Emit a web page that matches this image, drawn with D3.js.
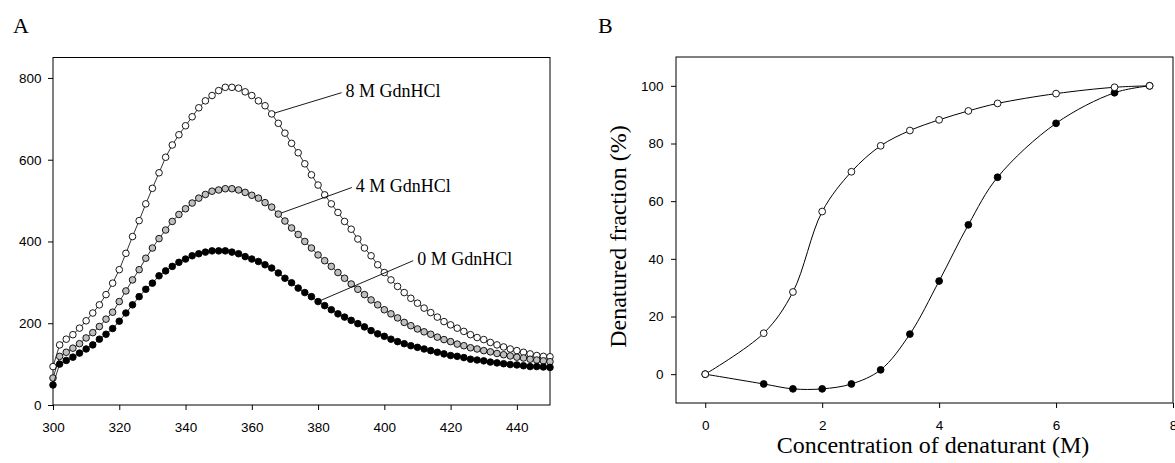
<!DOCTYPE html>
<html>
<head>
<meta charset="utf-8">
<script src="https://cdn.jsdelivr.net/npm/d3@7"></script>
<style>
  html, body { margin: 0; padding: 0; background: #fff; }
  svg { display: block; }
  .tick text { font-family: "Liberation Sans", Arial, sans-serif; font-size: 13.5px; fill: #000; }
</style>
</head>
<body>
<svg id="chart" width="1175" height="463"></svg>
<script>
// ---------- Panel A data: emission spectra ----------
const wavelengths = [300,302,304,306,308,310,312,314,316,318,320,322,324,326,328,330,332,334,336,338,
  340,342,344,346,348,350,352,354,356,358,360,362,364,366,368,370,372,374,376,378,
  380,382,384,386,388,390,392,394,396,398,400,402,404,406,408,410,412,414,416,418,
  420,422,424,426,428,430,432,434,436,438,440,442,444,446,448,450];
const gdn0M = [49,100,109,117,127,137,147,161,173,187,205,225,245,265,283,298,316,328,339,349,
  357,365,370,374,377,377,377,374,370,363,357,351,343,335,323,310,299,286,275,265,
  253,243,233,223,215,207,199,191,182,174,168,161,155,150,145,141,137,133,129,125,
  121,119,116,112,110,108,105,103,101,99,98,96,94,94,93,92];
const gdn4M = [66,119,129,139,150,164,177,192,210,227,253,279,306,331,359,384,407,428,449,466,
  480,494,506,515,523,526,529,529,526,520,513,506,495,484,467,450,433,417,400,384,
  367,353,339,324,310,296,283,270,257,245,233,223,213,202,194,186,179,173,166,160,
  155,149,145,140,137,133,130,126,123,120,117,115,112,110,108,106];
const gdn8M = [94,147,161,172,188,206,225,245,270,298,331,371,412,451,492,530,568,606,636,661,
  683,705,727,744,757,769,777,777,775,766,757,744,732,712,689,665,640,617,590,563,
  538,514,492,471,449,430,406,384,365,343,324,306,290,275,261,249,237,226,215,204,
  196,188,180,172,165,160,153,147,142,137,133,129,125,121,119,118];
const xTicksA = [300,320,340,360,380,400,420,440];
const yTicksA = [0,200,400,600,800];
const seriesNamesA = ["8 M GdnHCl","4 M GdnHCl","0 M GdnHCl"];
// annotation: anchor wavelength on the series, label end point in data units
const annotAnchorNm = [366, 368, 380];
const annotEndNm = [387.1, 390.2, 408.7];
const annotEndVal = [764, 532, 353];

// ---------- Panel B data: denaturation curves ----------
const concentration = [0,1,1.5,2,2.5,3,3.5,4,4.5,5,6,7,7.6];
const fractionFilled = [0,-3.4,-5.1,-5.1,-3.4,1.5,13.9,32.3,51.8,68.3,87,97.6,100];
const fractionOpen = [0,14.2,28.5,56.4,70.2,79.2,84.5,88.2,91.3,93.9,97.3,99.5,100];
const xTicksB = [0,2,4,6,8];
const yTicksB = [0,20,40,60,80,100];

const svg = d3.select("#chart");
const serif = "'Liberation Serif','Times New Roman',serif";

// ================= Panel A =================
const xA = d3.scaleLinear().domain([300,450]).range([53,550]);
const yA = d3.scaleLinear().domain([0,850]).range([405,57.5]);
const gA = svg.append("g");

gA.append("text").attr("x",13).attr("y",33).attr("font-family",serif).attr("font-size",22).text("A");

gA.append("g").attr("transform","translate(0,405)")
  .call(d3.axisBottom(xA).tickValues(xTicksA).tickSize(5).tickPadding(12.5).tickSizeOuter(0))
  .call(g=>g.select(".domain").remove());
gA.append("g").attr("transform","translate(53,0)")
  .call(d3.axisLeft(yA).tickValues(yTicksA).tickSize(5).tickPadding(6.5).tickSizeOuter(0))
  .call(g=>g.select(".domain").remove());
gA.append("rect").attr("x",xA(300)).attr("y",yA(850)).attr("width",xA(450)-xA(300)).attr("height",yA(0)-yA(850))
  .attr("fill","none").attr("stroke","#000").attr("stroke-width",1);

const seriesA = [
  {vals: gdn8M, fill: "#ffffff"},
  {vals: gdn4M, fill: "#bfbfbf"},
  {vals: gdn0M, fill: "#000000"}
];
const lineA = d3.line().x(d=>xA(d[0])).y(d=>yA(d[1]));
const rA = 3.3;
seriesA.forEach(s => {
  const pts = wavelengths.map((w,i)=>[w, s.vals[i]]);
  gA.append("path").datum(pts).attr("d",lineA).attr("fill","none").attr("stroke","#000").attr("stroke-width",0.8);
  gA.append("g").selectAll("circle").data(pts).join("circle")
    .attr("cx",d=>xA(d[0])).attr("cy",d=>yA(d[1])).attr("r",rA)
    .attr("fill",s.fill).attr("stroke","#000").attr("stroke-width",0.9);
});

// annotations
seriesA.forEach((s,i) => {
  const idx = wavelengths.indexOf(annotAnchorNm[i]);
  const cx = xA(annotAnchorNm[i]), cy = yA(s.vals[idx]);
  const ex = xA(annotEndNm[i]), ey = yA(annotEndVal[i]);
  const len = Math.hypot(ex-cx, ey-cy);
  const sx = cx + (ex-cx)/len*rA, sy = cy + (ey-cy)/len*rA;
  gA.append("line").attr("x1",sx).attr("y1",sy).attr("x2",ex).attr("y2",ey)
    .attr("stroke","#000").attr("stroke-width",0.9);
  gA.append("text").attr("x",ex+4).attr("y",ey+4.5)
    .attr("font-family",serif).attr("font-size",18).text(seriesNamesA[i]);
});

// ================= Panel B =================
const xB = d3.scaleLinear().domain([-0.5,8]).range([676,1173]);
const yB = d3.scaleLinear().domain([-10,110]).range([403,57]);
const gB = svg.append("g");

gB.append("text").attr("x",598).attr("y",33).attr("font-family",serif).attr("font-size",22).text("B");

gB.append("g").attr("transform","translate(0,403)")
  .call(d3.axisBottom(xB).tickValues(xTicksB).tickSize(5).tickPadding(12.5).tickSizeOuter(0))
  .call(g=>g.select(".domain").remove());
gB.append("g").attr("transform","translate(676,0)")
  .call(d3.axisLeft(yB).tickValues(yTicksB).tickSize(5).tickPadding(7.5).tickSizeOuter(0))
  .call(g=>g.select(".domain").remove());
gB.append("rect").attr("x",xB(-0.5)).attr("y",yB(110)).attr("width",xB(8)-xB(-0.5)).attr("height",yB(-10)-yB(110))
  .attr("fill","none").attr("stroke","#000").attr("stroke-width",1);

const lineB = d3.line().x(d=>xB(d[0])).y(d=>yB(d[1])).curve(d3.curveCatmullRom.alpha(0.5));
const filledPts = concentration.map((c,i)=>[c, fractionFilled[i]]);
const openPts = concentration.map((c,i)=>[c, fractionOpen[i]]);
[filledPts, openPts].forEach(p => {
  gB.append("path").datum(p).attr("d",lineB).attr("fill","none").attr("stroke","#000").attr("stroke-width",1);
});
gB.append("g").selectAll("circle").data(filledPts).join("circle")
  .attr("cx",d=>xB(d[0])).attr("cy",d=>yB(d[1])).attr("r",3.4)
  .attr("fill","#000").attr("stroke","#000").attr("stroke-width",0.9);
gB.append("g").selectAll("circle").data(openPts).join("circle")
  .attr("cx",d=>xB(d[0])).attr("cy",d=>yB(d[1])).attr("r",3.4)
  .attr("fill","#fff").attr("stroke","#000").attr("stroke-width",0.9);

gB.append("text").attr("transform","translate(626,236.5) rotate(-90)").attr("text-anchor","middle")
  .attr("font-family",serif).attr("font-size",24).text("Denatured fraction (%)");
gB.append("text").attr("x",933).attr("y",453).attr("text-anchor","middle")
  .attr("font-family",serif).attr("font-size",24).text("Concentration of denaturant (M)");
</script>
</body>
</html>
